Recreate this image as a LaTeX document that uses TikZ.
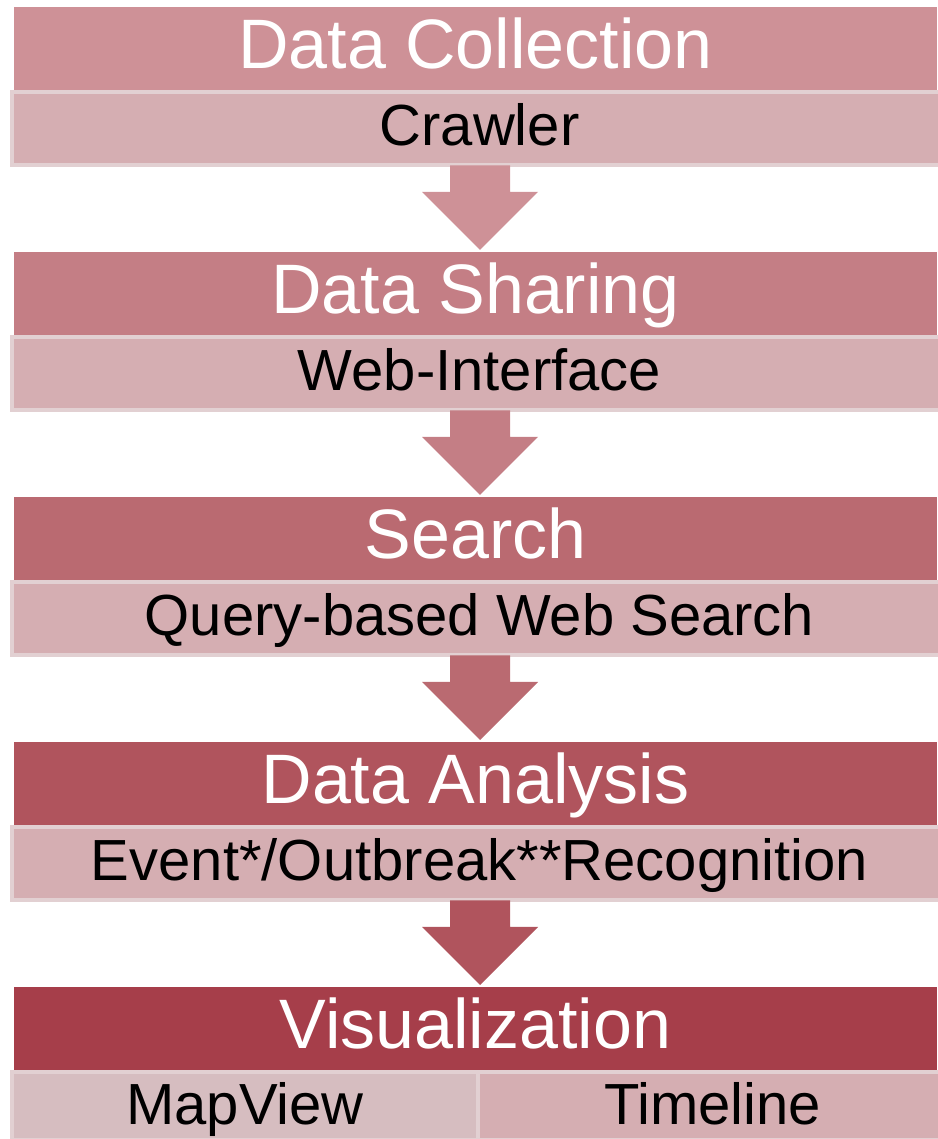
\documentclass[tikz,border=0pt]{standalone}
\usepackage{fontspec}
\setmainfont{Liberation Sans}
\usepackage{xcolor}
\usetikzlibrary{positioning, calc}

\definecolor{hdA}{RGB}{206,145,151}
\definecolor{hdB}{RGB}{196,126,133}
\definecolor{hdC}{RGB}{186,106,113}
\definecolor{hdD}{RGB}{176,84,93}
\definecolor{hdE}{RGB}{166,62,74}
\definecolor{taskfill}{RGB}{213,174,178}
\definecolor{taskline}{RGB}{226,208,210}
\definecolor{mapfill}{RGB}{214,189,192}

\begin{document}
\begin{tikzpicture}[
  x=1pt, y=1pt,
  stage/.style={fill=#1, text=white, font=\fontsize{70}{84}\selectfont,
                minimum width=923pt, minimum height=83pt, inner sep=0pt,
                text height=61pt, text depth=22pt, anchor=north},
  task/.style={draw=taskline, line width=4pt, fill=taskfill,
               font=\fontsize{58}{70}\selectfont, minimum width=935pt,
               inner sep=0pt, text height=53pt, text depth=20pt},
  halftask/.style={task, text depth=15pt, anchor=north},
]
\useasboundingbox (0,0) rectangle (937,1139);

% --- Stage 1 ---
\node[stage=hdA] (h1) at (475.5,1132) {Data Collection};
\node[task, below=0pt of h1, xshift=4pt] (c1) {Crawler};

% --- Stage 2 ---
\node[stage=hdB] (h2) at (475.5,887) {Data Sharing};
\node[task, below=0pt of h2, xshift=4pt] (c2) {Web-Interface};

% --- Stage 3 ---
\node[stage=hdC] (h3) at (475.5,642) {Search};
\node[task, below=0pt of h3, xshift=4pt] (c3) {Query-based Web Search};

% --- Stage 4 ---
\node[stage=hdD] (h4) at (475.5,397) {Data Analysis};
\node[task, below=0pt of h4, xshift=4pt] (c4) {Event*/Outbreak**Recognition};

% --- Stage 5 (split bottom row) ---
\node[stage=hdE] (h5) at (475.5,152) {Visualization};
\node[halftask, fill=mapfill, minimum width=466pt] (mv) at (245,69) {MapView};
\node[halftask, minimum width=469pt] (tl) at (712.5,69) {Timeline};

% --- Block arrows between stages ---
\foreach \src/\dst/\col in {c1/h2/hdA, c2/h3/hdB, c3/h4/hdC, c4/h5/hdD}
  \fill[\col] ($(\src.south)+(-29.5,2)$) -- ($(\dst.north)+(-25.5,60)$)
    -- ($(\dst.north)+(-53.5,60)$) -- ($(\dst.north)+(4.5,2)$)
    -- ($(\dst.north)+(62.5,60)$) -- ($(\dst.north)+(34.5,60)$)
    -- ($(\src.south)+(30.5,2)$) -- cycle;

\end{tikzpicture}
\end{document}
